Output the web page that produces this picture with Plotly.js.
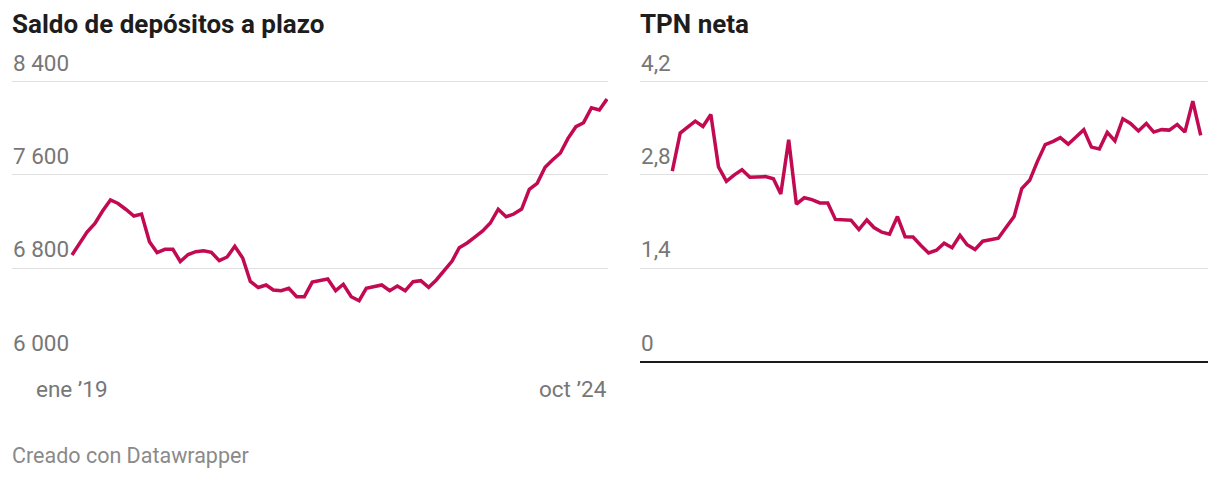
<!DOCTYPE html>
<html><head><meta charset="utf-8">
<script src="https://cdn.plot.ly/plotly-3.0.1.min.js"></script>
<style>html,body{margin:0;padding:0;background:#fff;overflow:hidden}</style>
</head><body><div id="chart" style="width:1220px;height:478px"></div>
<script>
// ---- data ----
const months = [
 "2019-01","2019-02","2019-03","2019-04","2019-05","2019-06","2019-07","2019-08","2019-09","2019-10","2019-11","2019-12",
 "2020-01","2020-02","2020-03","2020-04","2020-05","2020-06","2020-07","2020-08","2020-09","2020-10","2020-11","2020-12",
 "2021-01","2021-02","2021-03","2021-04","2021-05","2021-06","2021-07","2021-08","2021-09","2021-10","2021-11","2021-12",
 "2022-01","2022-02","2022-03","2022-04","2022-05","2022-06","2022-07","2022-08","2022-09","2022-10","2022-11","2022-12",
 "2023-01","2023-02","2023-03","2023-04","2023-05","2023-06","2023-07","2023-08","2023-09","2023-10","2023-11","2023-12",
 "2024-01","2024-02","2024-03","2024-04","2024-05","2024-06","2024-07","2024-08","2024-09","2024-10"
];
const saldoDepositos = [
 6913,7016,7110,7183,7290,7384,7354,7303,7247,7264,7027,6934,
 6962,6962,6857,6917,6941,6949,6936,6864,6896,6987,6887,6686,
 6634,6656,6613,6607,6627,6555,6555,6681,6696,6707,6607,6662,
 6555,6521,6627,6643,6656,6607,6647,6607,6684,6693,6636,6699,
 6786,6861,6975,7016,7067,7119,7187,7305,7241,7264,7307,7476,
 7527,7665,7727,7787,7913,8013,8047,8175,8156,8250
];
const monthsTPN = months.slice(0, 69);
const tpnNeta = [
 2.857,3.426,3.511,3.605,3.526,3.706,2.920,2.703,2.800,2.875,2.763,2.770,
 2.773,2.740,2.511,3.327,2.361,2.456,2.429,2.378,2.378,2.131,2.129,2.119,
 1.979,2.123,2.009,1.939,1.909,2.174,1.872,1.867,1.740,1.629,1.669,1.774,
 1.707,1.894,1.752,1.680,1.804,1.827,1.849,2.014,2.174,2.593,2.718,2.998,
 3.254,3.302,3.358,3.260,3.366,3.477,3.216,3.189,3.436,3.309,3.641,3.571,
 3.459,3.571,3.441,3.478,3.471,3.556,3.441,3.905,3.391
];
const titles = ["Saldo de depósitos a plazo", "TPN neta"];
const yTicksLeft = [6000, 6800, 7600, 8400];
const yTickTextLeft = ["6 000", "6 800", "7 600", "8 400"];
const yTicksRight = [0, 1.4, 2.8, 4.2];
const yTickTextRight = ["0", "1,4", "2,8", "4,2"];
const xLabels = ["ene ’19", "oct ’24"];
const credit = "Creado con Datawrapper";

// ---- layout geometry (pixels) ----
const W = 1220, H = 478;
const FONT = "Roboto, 'Noto Sans', sans-serif";
const LINE = "#c20a52";
const ms = s => { const p = s.split("-"); return Date.UTC(+p[0], +p[1]-1, 1); };
const fmt = t => new Date(t).toISOString().replace("T"," ").replace("Z","");
function extRange(v0, v1, p0, p1, d0, d1) {
  const k = (v1 - v0) / (p1 - p0);
  return [v0 - (p0 - d0) * k, v1 + (d1 - p1) * k];
}
const px2x = p => p / W, px2y = p => 1 - p / H;

const xL = extRange(ms(months[0]), ms(months[months.length-1]), 72, 607, 12, 608).map(fmt);
const xR = extRange(ms(monthsTPN[0]), ms(monthsTPN[monthsTPN.length-1]), 672.3, 1200.7, 640, 1208).map(fmt);
const yTop = 81.5, yBot = 361.5, dTop = 48, dBot = 362.5;
const yL = extRange(8400, 6000, yTop, yBot, dTop, dBot).reverse();
const yR = extRange(4.2, 0, yTop, yBot, dTop, dBot).reverse();
const yDomain = [px2y(dBot), px2y(dTop)];

const tickFont = {family: FONT, size: 22.5, color: "#777777"};
const yCommon = {
  domain: yDomain, showgrid: true, gridcolor: "#e0e0e0", gridwidth: 1,
  ticks: "", showline: false, tickmode: "array",
  ticklabelposition: "inside top", ticklabelshift: -3, tickfont: tickFont, fixedrange: true
};

const traces = [
  {x: months, y: saldoDepositos, xaxis: "x", yaxis: "y", type: "scatter", mode: "lines",
   line: {color: LINE, width: 3.5, shape: "linear"}, hoverinfo: "skip"},
  {x: monthsTPN, y: tpnNeta, xaxis: "x2", yaxis: "y2", type: "scatter", mode: "lines",
   line: {color: LINE, width: 3.5, shape: "linear"}, hoverinfo: "skip"}
];

const layout = {
  width: W, height: H, margin: {l: 0, r: 0, t: 0, b: 0},
  paper_bgcolor: "#fff", plot_bgcolor: "rgba(0,0,0,0)", showlegend: false,
  font: {family: FONT},
  xaxis: {type: "date", domain: [px2x(12), px2x(608)], range: xL, showgrid: false,
          showticklabels: false, ticks: "", zeroline: false, showline: false, fixedrange: true},
  xaxis2: {type: "date", domain: [px2x(640), px2x(1208)], range: xR, showgrid: false,
          showticklabels: false, ticks: "", zeroline: false, showline: false, fixedrange: true},
  yaxis: Object.assign({}, yCommon, {anchor: "free", position: px2x(9), range: yL,
          tickvals: yTicksLeft, ticktext: yTickTextLeft, zeroline: false}),
  yaxis2: Object.assign({}, yCommon, {anchor: "free", position: px2x(637), range: yR,
          tickvals: yTicksRight, ticktext: yTickTextRight,
          zeroline: true, zerolinecolor: "#1a1a1a", zerolinewidth: 2}),
  annotations: [
    {text: "<b>" + titles[0] + "</b>", xref: "paper", yref: "paper", x: px2x(12), y: px2y(24), xshift: -2,
     xanchor: "left", yanchor: "middle", showarrow: false, font: {family: FONT, size: 26, color: "#1d1d1d"}},
    {text: "<b>" + titles[1] + "</b>", xref: "paper", yref: "paper", x: px2x(640), y: px2y(24), xshift: -2,
     xanchor: "left", yanchor: "middle", showarrow: false, font: {family: FONT, size: 26, color: "#1d1d1d"}},
    {text: xLabels[0], xref: "x", yref: "paper", x: months[0], y: px2y(389),
     xanchor: "center", yanchor: "middle", showarrow: false, font: tickFont},
    {text: xLabels[1], xref: "x", yref: "paper", x: months[months.length-1], y: px2y(389), xshift: 2,
     xanchor: "right", yanchor: "middle", showarrow: false, font: tickFont},
    {text: credit, xref: "paper", yref: "paper", x: px2x(12), y: px2y(455), xshift: -2,
     xanchor: "left", yanchor: "middle", showarrow: false, font: {family: FONT, size: 21.5, color: "#8a8a8a"}}
  ]
};

Plotly.newPlot("chart", traces, layout, {staticPlot: true, displayModeBar: false});
</script>
</body></html>
